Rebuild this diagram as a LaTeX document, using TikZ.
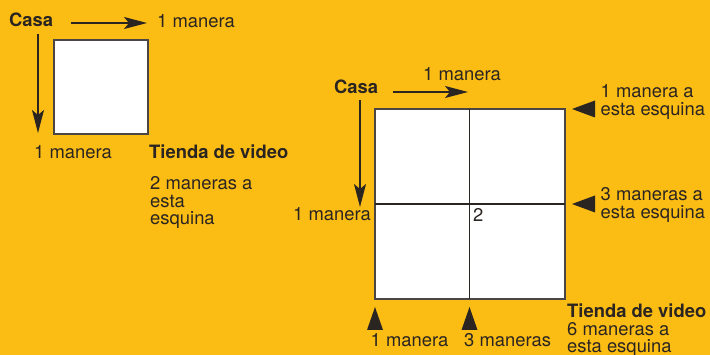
\documentclass[tikz,border=0pt]{standalone}
\usepackage{fontspec}
\setmainfont{TeX Gyre Heros}
\usetikzlibrary{arrows.meta}
\definecolor{fondo}{HTML}{FBBC14}
\definecolor{tinta}{HTML}{2B2522}
\tikzset{
  lbl/.style={anchor=base west, inner sep=0pt, text=tinta,
    font=\fontsize{18.4}{17.5}\selectfont, align=left},
  blbl/.style={lbl, font=\fontsize{18.4}{17.5}\selectfont\bfseries},
  flecha/.style={draw=tinta, line width=1.3pt,
    -{Stealth[length=23pt,width=12pt,inset=5pt]}},
  punta/.style={fill=tinta, draw=none},
  celda/.style={draw=tinta!85, fill=white, line width=1.3pt},
}

\begin{document}
\begin{tikzpicture}[x=1pt, y=-1pt]
    \fill[fondo] (0,0) rectangle (710,355);
    \useasboundingbox (0,0) rectangle (710,355);

    % small square
    \draw[celda] (54,40) rectangle (148,134);
    \node[blbl] (casaA) at (9,27) {Casa};
    \node[lbl] (derA) at (157,28) {1 manera};
    \node[lbl] (abaA) at (34,159) {1 manera};
    \node[blbl] (tiendaA) at (149,159) {Tienda de video};
    % base = last line
    \node[lbl] (cuentaA) at (150,225) {2 maneras a\\esta\\esquina};
    \coordinate (hA0) at (71,23);
    \coordinate (hA1) at (147,23);
    \coordinate (vA0) at (38,34);
    \coordinate (vA1) at (38,133);

    % big square
    \draw[celda] (375,109) rectangle (565,299);
    \draw[tinta, line width=1.2pt] (469.5,109) -- (469.5,299)
      (375,204) -- (565,204);
    \node[blbl] (casaB) at (334,94) {Casa};
    \node[lbl] (derB) at (423,81) {1 manera};
    \node[lbl] (izqB) at (293,221) {1 manera};
    \node[lbl] (dos) at (473,222) {2};
    \node[lbl] (esqA) at (600.5,115.5) {1 manera a\\esta esquina};
    \node[lbl] (esqB) at (600.5,218.5) {3 maneras a\\esta esquina};
    \node[blbl] (tiendaB) at (567,318) {Tienda de video};
    \node[lbl] (cuentaB) at (567,353) {6 maneras a\\esta esquina};
    \node[lbl] (bajoA) at (370.5,347) {1 manera};
    \node[lbl] (bajoB) at (464,347) {3 maneras};
    \coordinate (hB0) at (393,92);
    \coordinate (hB1) at (468,92);
    \coordinate (vB0) at (360,100);
    \coordinate (vB1) at (360,207);

    \path[every edge/.append style=flecha]
      (hA0) edge (hA1)
      (vA0) edge (vA1)
      (hB0) edge (hB1)
      (vB0) edge (vB1);

    % corner markers
    \fill[punta] (572,109) -- ++(23,-8.5) -- ++(0,17) -- cycle;
    \fill[punta] (572,204) -- ++(23,-8.5) -- ++(0,17) -- cycle;
    \fill[punta] (375,307) -- ++(8,23) -- ++(-16,0) -- cycle;
    \fill[punta] (469.5,307) -- ++(8,23) -- ++(-16,0) -- cycle;
\end{tikzpicture}
\end{document}
